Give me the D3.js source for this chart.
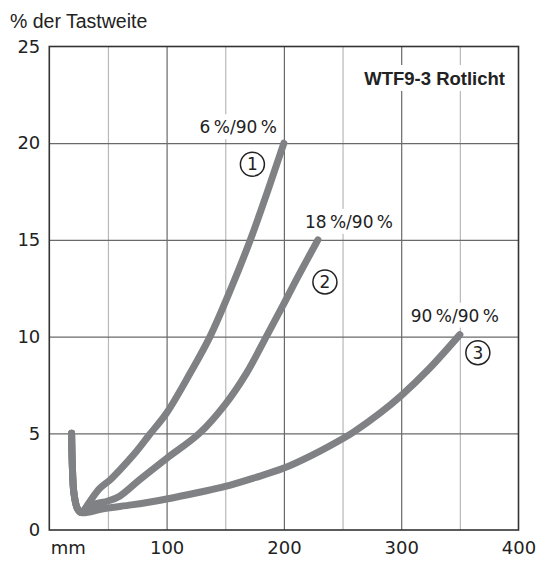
<!DOCTYPE html>
<html>
<head>
<meta charset="utf-8">
<script src="https://cdn.jsdelivr.net/npm/d3@7"></script>
<style>
  body { margin: 0; background: #fff; }
</style>
</head>
<body>
<div id="chart"></div>
<script>
// values (mm, % der Tastweite)
var curve1 = [[19, 5], [19.6, 3.4], [21, 1.9], [24, 1.1], [27.5, 0.9], [31, 1.15], [36, 1.6], [43, 2.15],
  [52, 2.6], [60, 3.1], [74, 4.05], [85, 4.9], [100, 6.05], [120, 8.1], [137, 10], [155, 12.5],
  [172, 15.1], [186, 17.5], [200, 20]];
var curve2 = [[19, 5], [19.6, 3.4], [21, 1.9], [24, 1.1], [27.5, 0.9], [37, 1.3], [50, 1.5], [60, 1.75],
  [77, 2.6], [100, 3.7], [128, 5], [150, 6.5], [168, 8.1], [185, 10], [200, 11.7], [212, 13.1], [229, 15]];
var curve3 = [[19, 5], [19.6, 3.4], [21, 1.9], [24, 1.1], [27.5, 0.9], [46, 1.1], [70, 1.3], [86, 1.45],
  [100, 1.6], [128, 1.95], [150, 2.25], [175, 2.7], [200, 3.2], [225, 3.9], [250, 4.72], [259, 5.05],
  [282, 6.05], [300, 6.95], [324, 8.35], [350, 10.1]];
var curves = [curve1, curve2, curve3];
var curveLabels = ['6\u2009%/90\u2009%', '18\u2009%/90\u2009%', '90\u2009%/90\u2009%'];
var curveNumbers = ['1', '2', '3'];
var xTicks = [0, 100, 200, 300, 400];
var xMinor = [50, 150, 250, 350];
var xMajor = [100, 200, 300];
var yTicks = [0, 5, 10, 15, 20, 25];
var yGrid = [5, 10, 15, 20];
var title = 'WTF9-3 Rotlicht';
var yTitle = '% der Tastweite';
var xUnit = 'mm';

var W = 540, H = 565;
var numFont = '"DejaVu Sans", sans-serif';
var txtFont = '"Liberation Sans", Arial, sans-serif';
var x = d3.scaleLinear().domain([0, 400]).range([49.3, 518.5]);
var y = d3.scaleLinear().domain([0, 25]).range([530, 46.5]);

var svg = d3.select('#chart').append('svg')
  .attr('width', W)
  .attr('height', H);

// grid
svg.append('g')
  .attr('transform', 'translate(0,' + y(0) + ')')
  .call(d3.axisBottom(x).tickValues(xMinor).tickSize(-(y(0) - y(25))).tickFormat(''))
  .call(function (g) {
    g.select('.domain').remove();
    g.selectAll('line').attr('stroke', '#b9b9b9').attr('stroke-width', 1.2);
  });
svg.append('g')
  .attr('transform', 'translate(0,' + y(0) + ')')
  .call(d3.axisBottom(x).tickValues(xMajor).tickSize(-(y(0) - y(25))).tickFormat(''))
  .call(function (g) {
    g.select('.domain').remove();
    g.selectAll('line').attr('stroke', '#6a6a6a').attr('stroke-width', 1.2);
  });
svg.append('g')
  .attr('transform', 'translate(' + x(0) + ',0)')
  .call(d3.axisLeft(y).tickValues(yGrid).tickSize(-(x(400) - x(0))).tickFormat(''))
  .call(function (g) {
    g.select('.domain').remove();
    g.selectAll('line').attr('stroke', '#6a6a6a').attr('stroke-width', 1.2);
  });

// frame
svg.append('rect')
  .attr('x', x(0)).attr('y', y(25))
  .attr('width', x(400) - x(0)).attr('height', y(0) - y(25))
  .attr('fill', 'none').attr('stroke', '#333').attr('stroke-width', 1.6);

// tick labels
svg.append('g')
  .attr('transform', 'translate(0,' + y(0) + ')')
  .call(d3.axisBottom(x).tickValues(xTicks).tickSize(0).tickPadding(11)
    .tickFormat(function (d) { return d === 0 ? xUnit : d; }))
  .call(function (g) {
    g.select('.domain').remove();
    g.selectAll('text').attr('font-size', 18).attr('font-family', numFont).attr('fill', '#222');
    g.selectAll('.tick').filter(function (d) { return d === 0; }).select('text')
      .attr('text-anchor', 'start').attr('dx', 1);
  });
svg.append('g')
  .attr('transform', 'translate(' + x(0) + ',0)')
  .call(d3.axisLeft(y).tickValues(yTicks).tickSize(0).tickPadding(9))
  .call(function (g) {
    g.select('.domain').remove();
    g.selectAll('text').attr('font-size', 18).attr('font-family', numFont).attr('fill', '#222');
  });

svg.append('text')
  .attr('x', 10).attr('y', 28)
  .attr('font-family', txtFont)
  .attr('font-size', 19.5)
  .attr('fill', '#222')
  .text(yTitle);

// labels with white boxes over the grid
function boxedText(tx, ty, anchor, str, size, weight, family) {
  var g = svg.append('g');
  var rect = g.append('rect').attr('fill', '#fff');
  var t = g.append('text')
    .attr('x', tx).attr('y', ty)
    .attr('text-anchor', anchor)
    .attr('font-size', size)
    .attr('font-weight', weight)
    .attr('font-family', family)
    .attr('fill', '#222')
    .text(str);
  var b = t.node().getBBox();
  rect.attr('x', b.x - 4).attr('y', b.y - 3).attr('width', b.width + 8).attr('height', b.height + 5);
  return g;
}

boxedText(505, 85, 'end', title, 18.5, 'bold', txtFont);

var labelOffsets = [[-7, -10, 'end'], [-13, -12, 'start'], [-5, -13, 'middle']];
var numberOffsets = [[-31.5, 21], [7, 42], [18, 18]];

// curves
var line = d3.line()
  .x(function (d) { return x(d[0]); })
  .y(function (d) { return y(d[1]); })
  .curve(d3.curveCatmullRom.alpha(0.5));

curves.forEach(function (c, i) {
  var end = c[c.length - 1];
  var ex = x(end[0]), ey = y(end[1]);
  boxedText(ex + labelOffsets[i][0], ey + labelOffsets[i][1], labelOffsets[i][2], curveLabels[i], 17, 'normal', numFont);
  var cx = ex + numberOffsets[i][0], cy = ey + numberOffsets[i][1];
  svg.append('circle')
    .attr('cx', cx).attr('cy', cy).attr('r', 12)
    .attr('fill', '#fff').attr('stroke', '#222').attr('stroke-width', 1.5);
  svg.append('text')
    .attr('x', cx).attr('y', cy)
    .attr('dy', '0.36em')
    .attr('text-anchor', 'middle')
    .attr('font-size', 17)
    .attr('font-family', numFont)
    .attr('fill', '#222')
    .text(curveNumbers[i]);
});

curves.forEach(function (c) {
  svg.append('path')
    .datum(c)
    .attr('d', line)
    .attr('fill', 'none')
    .attr('stroke', '#808184')
    .attr('stroke-width', 7)
    .attr('stroke-linecap', 'round')
    .attr('stroke-linejoin', 'round');
});
</script>
</body>
</html>
